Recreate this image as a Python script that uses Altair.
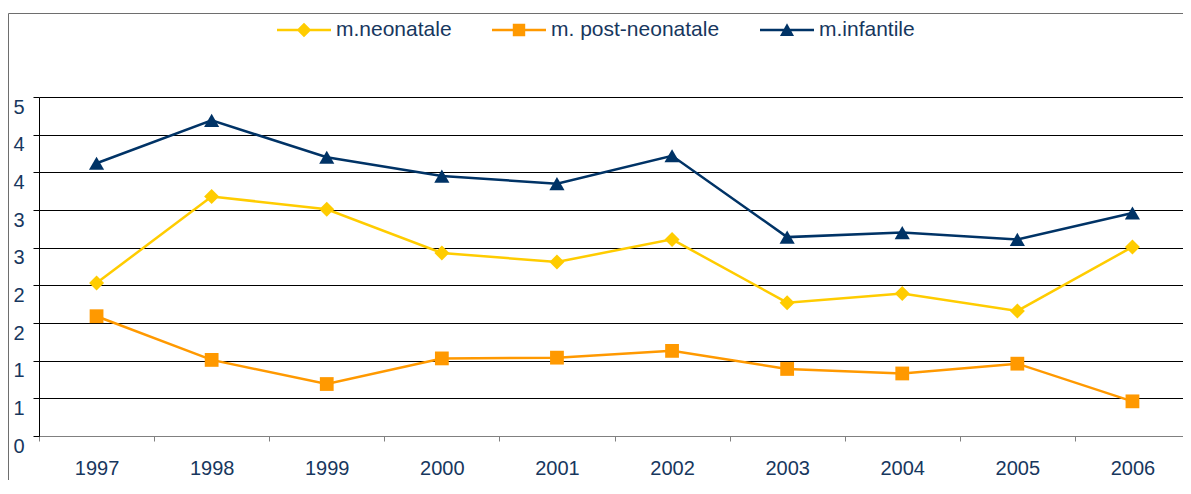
import altair as alt
import pandas as pd

# ---------------- data ----------------
years = ["1997", "1998", "1999", "2000", "2001", "2002", "2003", "2004", "2005", "2006"]
series_names = ["m.neonatale", "m. post-neonatale", "m.infantile"]
neonatale = [2.03, 3.18, 3.01, 2.43, 2.31, 2.61, 1.77, 1.89, 1.66, 2.51]
post_neonatale = [1.59, 1.01, 0.69, 1.03, 1.04, 1.13, 0.89, 0.83, 0.96, 0.46]
infantile = [3.62, 4.19, 3.70, 3.45, 3.35, 3.72, 2.64, 2.70, 2.61, 2.96]

series_colors = ["#FFCC00", "#FF9900", "#003366"]
marker_shapes = ["diamond", "square", "triangle-up"]
marker_sizes = [225, 190, 230]
# legend symbols: a short line with the marker on it (filled paths)
legend_paths = [
    "M-1,-0.045H1V0.045H-1ZM-0.27,0L0,-0.27L0.27,0L0,0.27Z",
    "M-1,-0.045H1V0.045H-1ZM-0.23,-0.23H0.23V0.23H-0.23Z",
    "M-1,-0.045H1V0.045H-1ZM-0.26,0.22L0,-0.25L0.26,0.22Z",
]

y_tick_values = [0, 0.5, 1, 1.5, 2, 2.5, 3, 3.5, 4, 4.5]
y_tick_labels = ["0", "1", "1", "2", "2", "3", "3", "4", "4", "5"]

rows = []
for name, vals in zip(series_names, [neonatale, post_neonatale, infantile]):
    for yr, v in zip(years, vals):
        rows.append({"year": yr, "series": name, "value": v})
df = pd.DataFrame(rows)

FONT = "Liberation Sans, Arial, Helvetica, sans-serif"
TEXT = "#17375E"

label_expr = "[" + ",".join("'" + s + "'" for s in y_tick_labels) + "][round(datum.value*2)]"

PLOT_W = 1144      # visible plot width (page is 1191 px wide)
BAND_EXTENT = 1151  # the category bands run slightly past the visible edge

x_enc = alt.X(
    "year:O",
    sort=years,
    scale=alt.Scale(type="band", paddingInner=0, paddingOuter=0, range=[0, BAND_EXTENT]),
    axis=alt.Axis(
        title=None, labelAngle=0, labelFontSize=20, labelColor=TEXT, labelFont=FONT,
        labelPadding=17, tickBand="extent", tickSize=5, tickColor="#808080",
        domainColor="#808080", domainWidth=1, grid=False,
    ),
)

y_scale = alt.Scale(domain=[0, 4.5], nice=False, zero=True)
y_axis = alt.Axis(
    title=None, values=y_tick_values, labelExpr=label_expr, grid=True,
    gridColor="#000000", gridWidth=1, domainColor="#000000", domainWidth=1,
    tickColor="#000000", tickSize=6, labelPadding=9, labelBaseline="top",
    labelFontSize=20, labelColor=TEXT, labelFont=FONT, labelFlush=False,
    labelOverlap=False,
)

layers = []
for name, color, shape, msize in zip(series_names, series_colors, marker_shapes, marker_sizes):
    layers.append(
        alt.Chart(df)
        .transform_filter(alt.datum.series == name)
        .mark_line(
            color=color, strokeWidth=2.5,
            point=alt.OverlayMarkDef(shape=shape, filled=True, color=color, size=msize, opacity=1),
        )
        .encode(x=x_enc, y=alt.Y("value:Q", scale=y_scale, axis=y_axis))
    )

legend_def = alt.Legend(
    title=None, orient="none", legendX=238, legendY=-94, direction="horizontal",
    symbolSize=2916, symbolStrokeWidth=0, symbolStrokeColor="transparent",
    symbolFillColor="#000000", symbolOpacity=1, labelOffset=5, columnPadding=40,
    labelFontSize=21, labelFont=FONT, labelColor=TEXT, labelLimit=400, padding=0,
)

# carrier layer for the legend: its points fall outside the plot and are clipped
legend_layer = (
    alt.Chart(df)
    .transform_filter(alt.datum.year == "1997")
    .transform_calculate(hidden="-10")
    .mark_point(filled=True, clip=True, size=2916, strokeWidth=0)
    .encode(
        x=x_enc,
        y=alt.Y("hidden:Q", scale=y_scale, axis=y_axis),
        color=alt.Color("series:N", sort=series_names,
                        scale=alt.Scale(domain=series_names, range=series_colors), legend=legend_def),
        shape=alt.Shape("series:N", sort=series_names,
                        scale=alt.Scale(domain=series_names, range=legend_paths), legend=legend_def),
    )
)

border_data = alt.Data(values=[{"k": 0}])
top_border = alt.Chart(border_data).mark_rule(color="#6E6E6E", strokeWidth=1).encode(
    x=alt.value(-30.5), x2=alt.value(1160), y=alt.value(-83.5)
)
left_border = alt.Chart(border_data).mark_rule(color="#6E6E6E", strokeWidth=1).encode(
    x=alt.value(-30.5), y=alt.value(-83.5), y2=alt.value(420)
)

chart = (
    alt.layer(top_border, left_border, *layers, legend_layer)
    .properties(
        width=PLOT_W, height=339,
        autosize=alt.AutoSizeParams(type="none"),
        padding={"left": 31, "top": 89, "right": 0, "bottom": 44},
        background="#FFFFFF",
    )
    .configure_view(stroke=None)
)

chart.save("out.html", embed_options={"renderer": "svg", "actions": False})
